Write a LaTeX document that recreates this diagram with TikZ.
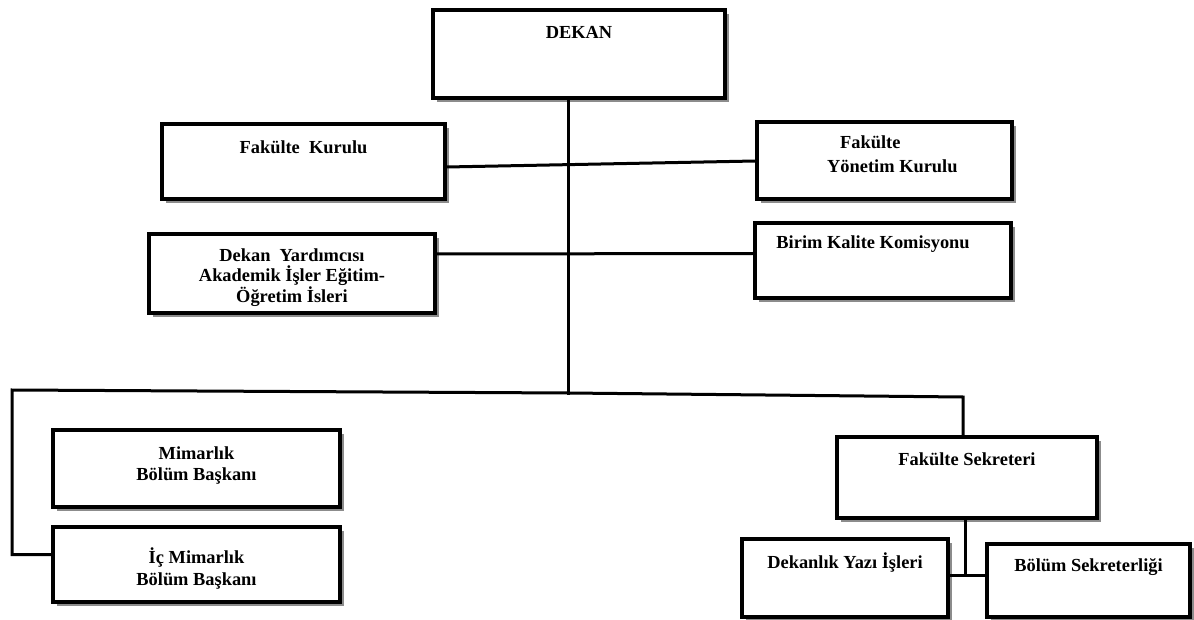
\documentclass[tikz,border=0pt]{standalone}
\usepackage{fontspec}
\setmainfont{Liberation Serif}
\usetikzlibrary{calc,shadows}
\begin{document}
\begin{tikzpicture}[x=1pt,y=-1pt,
  box/.style={draw=black, line width=3.5pt, fill=white, inner sep=0pt,
    drop shadow={shadow xshift=4pt, shadow yshift=-4pt, fill=black!45, opacity=1}},
  txt/.style={font=\fontsize{18.4}{20.5}\selectfont\bfseries, inner sep=0pt, align=center},
  conn/.style={line width=3pt, line join=miter, line cap=rect}]
\useasboundingbox[fill=white] (0,0) rectangle (1194,620);

% boxes
\node[box, minimum width=292pt, minimum height=88pt] (dekan) at (579,54) {};
\node[box, minimum width=283pt, minimum height=75pt] (fk) at (303.5,161.5) {};
\node[box, minimum width=255pt, minimum height=77pt] (fyk) at (884.5,160.5) {};
\node[box, minimum width=286pt, minimum height=79pt] (dy) at (292,273.5) {};
\node[box, minimum width=256pt, minimum height=75pt] (bkk) at (883,260.5) {};
\node[box, minimum width=287pt, minimum height=77pt] (mim) at (196.5,468.5) {};
\node[box, minimum width=287pt, minimum height=75pt] (ic) at (196.5,564.5) {};
\node[box, minimum width=260pt, minimum height=81pt] (fs) at (967,477.5) {};
\node[box, minimum width=206pt, minimum height=78pt] (dyi) at (845,578) {};
\node[box, minimum width=203pt, minimum height=73pt] (bs) at (1088.5,580.5) {};

% texts (base anchor = baseline of the last line)
\node[txt, anchor=base] (dekan-t) at ($(dekan.north)+(0,30)$) {DEKAN};
\node[txt, anchor=base] (fk-t) at ($(fk.north)+(0,31)$) {Fakülte\ \ Kurulu};
\node[txt, anchor=base west, align=left] (fyk-t) at (827,173) {\hspace*{13pt}Fakülte\\[3.5pt]Yönetim Kurulu};
\node[txt, anchor=base] (dy-t) at ($(dy.north)+(0,70)$) {Dekan\ \ Yardımcısı\\Akademik İşler Eğitim-\\Öğretim İsleri};
\node[txt, anchor=base west] (bkk-t) at ($(bkk.north west)+(23,27)$) {Birim Kalite Komisyonu};
\node[txt, anchor=base] (mim-t) at ($(mim.north)+(0,52)$) {Mimarlık\\Bölüm Başkanı};
\node[txt, anchor=base] (ic-t) at ($(ic.north)+(0,60)$) {İç Mimarlık\\[1.5pt]Bölüm Başkanı};
\node[txt, anchor=base] (fs-t) at ($(fs.north)+(0,30)$) {Fakülte Sekreteri};
\node[txt, anchor=base] (dyi-t) at ($(dyi.north)+(0,31)$) {Dekanlık Yazı İşleri};
\node[txt, anchor=base] (bs-t) at ($(bs.north)+(0,29)$) {Bölüm Sekreterliği};

% connectors
\coordinate (busL) at (12,390);
\coordinate (busM) at (568,393);
\coordinate (busR) at (963,397);
\coordinate (j) at (965,575);
\draw[conn] (dekan.south -| busM) -- (busM);
\draw[conn] ($(fk.east)+(0,5.5)$) -- ($(fyk.west)+(0,0.5)$);
\draw[conn] ($(dy.east)+(0,-19.5)$) -- ($(bkk.west)+(0,-7)$);
\draw[conn] ($(ic.west)+(0,-10)$) -| (busL) -- (busM) -- (busR) -- (busR |- fs.north);
\draw[conn] (j |- fs.south) -- (j);
\draw[conn] ($(dyi.east)+(0,-3)$) -- ($(bs.west)+(0,-5.5)$);
\end{tikzpicture}
\end{document}
